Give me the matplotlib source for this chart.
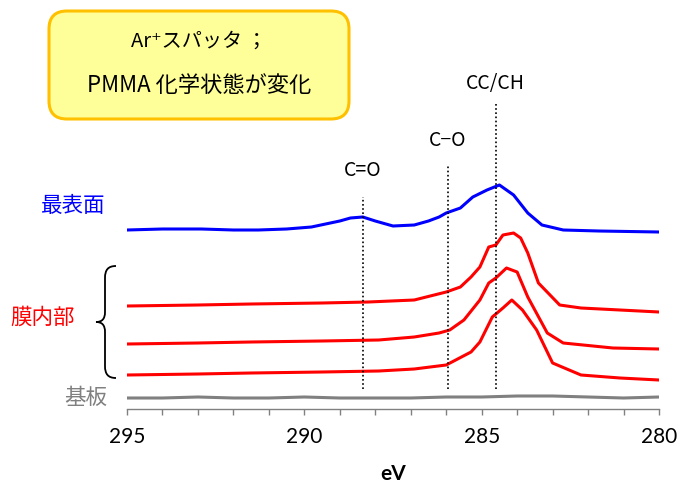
import numpy as np
import matplotlib
matplotlib.use("Agg")
import matplotlib.pyplot as plt
from matplotlib.patches import FancyBboxPatch, PathPatch
from matplotlib.path import Path
from matplotlib.transforms import IdentityTransform

plt.rcParams['font.family'] = ['Noto Sans CJK JP', 'DejaVu Sans']

# C1s spectra (binding energy eV, intensity a.u. incl. offset)
e_top = [295.0, 294.0, 292.9, 292.0, 291.3, 290.5, 289.8, 289.4, 289.0, 288.7, 288.35, 288.0,
         287.5, 286.9, 286.5, 286.2, 286.0, 285.6, 285.25, 284.85, 284.5, 284.1, 283.7,
         283.3, 282.7, 281.7, 280.0]
i_top = [179, 180, 180, 179, 179, 180, 182, 185, 188, 191, 192, 188,
         183, 184, 188, 192, 196, 201, 212, 219, 224, 214, 196,
         184, 179, 178, 177]

e_film1 = [295.0, 293.0, 291.5, 289.5, 288.2, 286.9, 286.0, 285.6, 285.3, 285.05, 284.8, 284.6,
           284.4, 284.1, 283.9, 283.7, 283.4, 282.8, 282.2, 281.1, 280.0]
i_film1 = [103, 104, 105, 106, 107, 109, 117, 122, 132, 142, 162, 164,
           174, 176, 171, 156, 126, 104, 101, 99, 97]

e_film2 = [295.0, 293.0, 291.5, 289.5, 287.9, 286.9, 286.2, 285.9, 285.5, 285.05, 284.8, 284.6,
           284.3, 284.0, 283.7, 283.15, 282.7, 281.3, 280.0]
i_film2 = [65, 66, 67, 68, 69, 72, 76, 79, 89, 109, 126, 131,
           141, 137, 112, 76, 66, 61, 60]

e_film3 = [295.0, 293.0, 291.5, 289.5, 287.9, 286.9, 286.0, 285.3, 285.05, 284.7, 284.4, 284.15,
           283.85, 283.45, 283.0, 282.2, 281.1, 280.0]
i_film3 = [34, 35, 36, 37, 38, 40, 44, 57, 67, 92, 101, 109,
           99, 79, 46, 34, 31, 29]

e_sub = [295, 294, 293, 292, 291, 290, 289, 288, 287, 286, 285, 284, 283, 282, 281, 280]
i_sub = [11, 11, 12, 11, 11, 12, 11, 11, 11, 12, 12, 13, 13, 12, 11, 12]

# reference peak positions: (energy, label, line top, label y)
peaks = [288.35, 285.95, 284.6]
peak_labels = ['C=O', 'C−O', 'CC/CH']
peak_tops = [212, 244, 306]
label_y = [239, 269, 326]

W, H = 680, 484
fig = plt.figure(figsize=(W / 100, H / 100), dpi=100)
ax = fig.add_axes([127 / W, (H - 409) / H, 532 / W, 319 / H])

ax.plot(e_top, i_top, color='#0000FF', lw=2.2)
for e, i in [(e_film1, i_film1), (e_film2, i_film2), (e_film3, i_film3)]:
    ax.plot(e, i, color='#FF0000', lw=2.2)
ax.plot(e_sub, i_sub, color='#808080', lw=2.2)

for x, lab, top, ly in zip(peaks, peak_labels, peak_tops, label_y):
    ax.plot([x, x], [20, top], color='black', lw=1.2, ls=(0, (1, 1.5)))
    ax.text(x, ly, lab, ha='center', va='center', fontsize=14)

ax.set_xlim(295, 280)
ax.set_ylim(0, 319)
ax.set_xticks([295, 290, 285, 280])
ax.set_xticks(np.arange(280, 296, 1), minor=True)
ax.set_yticks([])
for s in ['top', 'right', 'left']:
    ax.spines[s].set_visible(False)
ax.spines['bottom'].set_color('#808080')
ax.spines['bottom'].set_linewidth(1.0)
ax.tick_params(axis='x', which='both', direction='out', color='#808080', width=1.0)
ax.tick_params(axis='x', which='major', length=4, pad=9, labelsize=15)
ax.tick_params(axis='x', which='minor', length=4)
for t in ax.get_xticklabels():
    t.set_fontfamily(['Lato', 'DejaVu Sans'])
ax.set_xlabel('eV', fontsize=15, fontweight='bold', labelpad=12,
              fontfamily=['Lato', 'DejaVu Sans'])

# series labels
fig.text(73 / W, 1 - 206 / H, '最表面', color='#0000FF', fontsize=15.5, ha='center', va='center')
fig.text(43 / W, 1 - 318 / H, '膜内部', color='#FF0000', fontsize=15.5, ha='center', va='center')
fig.text(86 / W, 1 - 398 / H, '基板', color='#808080', fontsize=15.5, ha='center', va='center')

# curly brace for the film spectra (display pixels)
def px(x, y):
    return (x, H - y)

verts = [px(116, 266), px(108, 266), px(105, 270), px(105, 278),
         px(105, 312),
         px(105, 319), px(102, 322), px(96, 322),
         px(102, 322), px(105, 325), px(105, 332),
         px(105, 366),
         px(105, 374), px(108, 378), px(116, 378)]
codes = [Path.MOVETO, Path.CURVE4, Path.CURVE4, Path.CURVE4,
         Path.LINETO,
         Path.CURVE4, Path.CURVE4, Path.CURVE4,
         Path.CURVE4, Path.CURVE4, Path.CURVE4,
         Path.LINETO,
         Path.CURVE4, Path.CURVE4, Path.CURVE4]
brace = PathPatch(Path(verts, codes), transform=IdentityTransform(),
                  fill=False, edgecolor='black', lw=1.3)
fig.patches.append(brace)

# note box
box = FancyBboxPatch(px(49, 119), 300, 108, boxstyle='round,pad=0,rounding_size=18',
                     transform=IdentityTransform(), facecolor='#FFFF99',
                     edgecolor='#FFC000', lw=2.2)
fig.patches.append(box)
fig.text(199 / W, 1 - 41 / H, 'Ar⁺スパッタ ；', fontsize=14.5, ha='center', va='center')
fig.text(199 / W, 1 - 86 / H, 'PMMA 化学状態が変化', fontsize=16, ha='center', va='center')

fig.savefig('out.png', dpi=100)
